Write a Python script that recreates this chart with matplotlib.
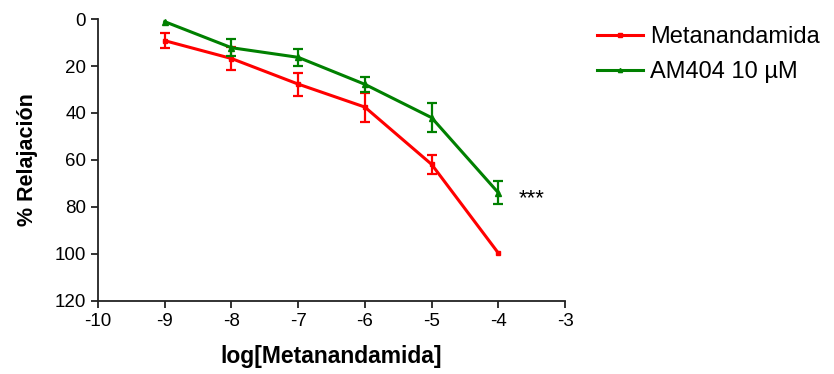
import numpy as np
import matplotlib.pyplot as plt
from matplotlib.lines import Line2D

plt.rcParams['font.family'] = ['Liberation Sans', 'DejaVu Sans']
plt.rcParams['axes.unicode_minus'] = False

log_conc = [-9, -8, -7, -6, -5, -4]

meta_mean = [9.2, 16.8, 27.7, 37.5, 61.9, 99.7]
meta_err = [3.3, 4.8, 4.9, 6.2, 4.0, 0.0]

am404_mean = [1.1, 12.2, 16.3, 27.8, 42.0, 74.0]
am404_err = [0.0, 3.5, 3.6, 3.3, 6.2, 4.8]

fig = plt.figure(figsize=(8.34, 3.74), dpi=100)
ax = fig.add_axes([0.1175, 0.196, 0.56, 0.753])

series = [
    (meta_mean, meta_err, '#ff0000', 's', 3.5, 'Metanandamida'),
    (am404_mean, am404_err, '#008000', '^', 5, 'AM404 10 µM'),
]
handles = []
for mean, err, col, mk, ms, lab in series:
    ax.plot(log_conc, mean, color=col, lw=2.2, marker=mk, ms=ms)
    # only draw bars where there is an error
    xs = [x for x, e in zip(log_conc, err) if e > 0]
    ys = [m for m, e in zip(mean, err) if e > 0]
    es = [e for e in err if e > 0]
    ax.errorbar(xs, ys, yerr=es, fmt='none', ecolor=col, capsize=3.5,
                elinewidth=1.6, capthick=1.6)
    handles.append(Line2D([], [], color=col, lw=2.2, marker=mk, ms=3, label=lab))

ax.text(-3.5, 76.5, '***', fontsize=16, ha='center', va='center')

ax.set_xlim(-10, -3)
ax.set_ylim(120, 0)
ax.set_xticks(np.arange(-10, -2, 1))
ax.set_yticks(np.arange(0, 121, 20))
for s in ['top', 'right']:
    ax.spines[s].set_visible(False)
for s in ['left', 'bottom']:
    ax.spines[s].set_linewidth(1.3)
    ax.spines[s].set_color('#222222')
ax.tick_params(labelsize=13.5, width=1.3, length=5, color='#222222')

ax.set_xlabel('log[Metanandamida]', fontsize=16.5, fontweight='bold', labelpad=11)
ax.set_ylabel('% Relajación', fontsize=15.5, fontweight='bold', labelpad=12)

fig.legend(handles=handles, loc='upper left', bbox_to_anchor=(0.716, 0.93),
           frameon=False, fontsize=17, handlelength=1.95, handletextpad=0.3,
           labelspacing=0.55, borderaxespad=0, borderpad=0)

fig.savefig('out.png', dpi=100)
